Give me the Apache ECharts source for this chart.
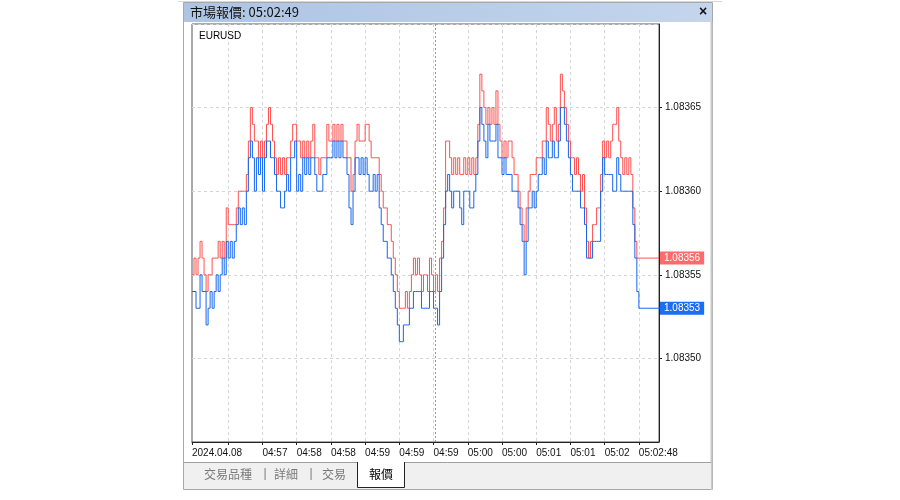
<!DOCTYPE html>
<html>
<head>
<meta charset="utf-8">
<script src="https://cdn.jsdelivr.net/npm/echarts@6/dist/echarts.min.js"></script>
<style>
html,body{margin:0;padding:0;background:#fff;}
#chart{width:900px;height:500px;}
</style>
</head>
<body>
<div id="chart"></div>
<script>
// ---- data ----
const symbol = 'EURUSD';
const windowTitle = '市場報價: 05:02:49';
const tabNames = ['交易品種', '詳細', '交易', '報價'];
const BASE = 1.08350;   // price base
const POINT = 0.00001;  // one point
// ask / bid prices per tick, in points above BASE
const askPoints = [5,6,5,6,7,6,5,4,5,5,6,6,6,7,6,7,6,9,8,8,8,8,9,10,10,10,10,11,13,15,
  14,13,13,12,13,12,13,14,15,14,13,12,11,12,11,12,11,12,12,13,14,14,13,13,12,13,12,13,12,13,
  14,12,12,11,12,12,12,14,13,13,14,13,14,13,14,13,13,12,12,10,11,13,14,13,13,13,14,14,13,12,
  12,12,12,11,10,9,9,8,8,7,6,5,4,3,3,3,4,3,4,5,6,5,6,5,4,5,5,4,6,5,
  4,5,4,6,7,9,13,13,12,11,12,11,12,11,11,12,11,12,11,12,11,12,14,17,16,15,14,15,14,15,
  14,16,14,13,12,13,12,13,13,12,11,11,10,9,8,7,9,10,11,11,11,12,12,12,13,13,15,14,13,14,
  15,13,14,17,16,15,14,13,12,12,11,12,11,10,11,9,7,6,7,8,8,9,9,11,13,12,13,12,13,14,
  14,15,13,12,11,12,11,12,11,9,7,6,6,6,6,6,6,6,6,6,6,6,6];
const bidPoints = [4,4,3,3,5,4,4,2,3,4,3,4,5,4,5,6,5,7,6,7,6,7,8,9,8,9,8,10,12,13,
  12,10,12,11,12,10,12,13,13,12,12,11,10,10,9,9,10,11,10,12,12,13,10,11,10,12,11,12,11,12,
  12,11,10,10,10,11,11,12,12,12,13,12,13,12,13,12,12,11,9,8,10,12,12,11,12,11,12,11,10,10,
  11,10,11,9,8,7,7,6,6,5,4,3,2,1,1,2,2,2,3,3,4,4,4,4,3,3,3,3,4,4,
  3,3,2,4,6,8,10,11,10,9,10,10,10,9,8,10,10,10,9,9,10,11,13,15,14,13,12,14,13,13,
  13,14,12,12,11,12,11,11,11,10,10,10,9,8,7,5,7,9,9,10,9,10,11,11,12,11,13,12,12,13,
  12,12,13,15,15,14,13,12,11,10,10,10,10,9,9,8,6,6,6,7,7,7,7,10,12,11,11,11,11,10,
  10,12,11,10,10,10,10,10,10,8,6,4,3,3,3,3,3,3,3,3,3,3,3,3];
// time labels and the tick index where each one sits
const timeLabels = ['2024.04.08','04:57','04:58','04:58','04:59','04:59','04:59','05:00','05:00','05:01','05:01','05:02','05:02:48'];
const labelTicks = [0,35,52,69,86,103,120,137,154,171,188,205,222];
const separatorTick = 121;
const yTicks = [1.08345, 1.08350, 1.08355, 1.08360, 1.08365, 1.08370];

// ---- build ----
const toPrice = p => Number((BASE + p * POINT).toFixed(5));
const ask = askPoints.map(toPrice);
const bid = bidPoints.map(toPrice);
const categories = ask.map((_, i) => String(i));
const lastAsk = ask[ask.length - 1];
const lastBid = bid[bid.length - 1];
const labelMap = {};
labelTicks.forEach((t, k) => { labelMap[t] = timeLabels[k]; });
const isGrid = i => i >= 18 && (i - 18) % 17 === 0;

const FONT = '"Liberation Sans", Arial, sans-serif';
const CJK = '"Noto Sans CJK TC", "Noto Sans", sans-serif';
const RED = '#ff5050', BLUE = '#1466f0';
const yMin = yTicks[0], yMax = yTicks[yTicks.length - 1];

const chart = echarts.init(document.getElementById('chart'), null, {renderer: 'canvas'});
chart.setOption({
  animation: false,
  backgroundColor: '#ffffff',
  title: {
    text: symbol, left: 194, top: 26,
    textStyle: {fontSize: 10, fontWeight: 'normal', color: '#000', fontFamily: FONT}
  },
  grid: {left: 192, right: 241, top: 24, bottom: 58, show: true, borderColor: '#555', borderWidth: 1, backgroundColor: '#fff'},
  xAxis: {
    type: 'category', data: categories, boundaryGap: false,
    axisLine: {show: true, lineStyle: {color: '#222'}},
    axisTick: {show: true, length: 3, interval: (i) => i === 0 || isGrid(i), lineStyle: {color: '#222'}},
    axisLabel: {
      show: true, interval: (i) => labelMap[i] !== undefined, align: 'left', margin: 6,
      formatter: (v, i) => labelMap[i] || '', fontSize: 10, color: '#111', fontFamily: FONT
    },
    splitLine: {show: true, interval: (i) => isGrid(i), lineStyle: {color: '#d4d4d4', type: [3, 3]}}
  },
  yAxis: [
    {
      type: 'value', position: 'right', min: yMin, max: yMax, interval: 0.00005,
      axisLine: {show: true, lineStyle: {color: '#222'}},
      axisTick: {show: true, length: 3, lineStyle: {color: '#222'}},
      axisLabel: {
        showMinLabel: false, showMaxLabel: false, margin: 6,
        formatter: v => v.toFixed(5), fontSize: 10, color: '#111', fontFamily: FONT
      },
      splitLine: {show: true, lineStyle: {color: '#d4d4d4', type: [3, 3]}}
    },
    {
      type: 'value', position: 'right', min: yMin, max: yMax, offset: 0,
      axisLine: {show: false}, axisTick: {show: false}, splitLine: {show: false},
      axisLabel: {
        show: true, margin: 1, customValues: [lastAsk, lastBid],
        formatter: v => (Math.abs(v - lastAsk) < 1e-9 ? '{a|' + lastAsk.toFixed(5) + '}' : '{b|' + lastBid.toFixed(5) + '}'),
        rich: {
          a: {backgroundColor: '#ff6b6b', color: '#fff', padding: [2, 4, 1, 4], fontSize: 10, fontFamily: FONT},
          b: {backgroundColor: '#1a6ef0', color: '#fff', padding: [2, 4, 1, 4], fontSize: 10, fontFamily: FONT}
        }
      }
    }
  ],
  series: [
    {
      name: 'Ask', type: 'line', step: 'end', data: ask, symbol: 'none',
      lineStyle: {color: RED, width: 1}, z: 3
    },
    {
      name: 'Bid', type: 'line', step: 'end', data: bid, symbol: 'none',
      lineStyle: {color: BLUE, width: 1}, z: 4
    },
    {
      name: 'sep', type: 'line', data: [], z: 2,
      markLine: {
        silent: true, symbol: 'none', animation: false, label: {show: false},
        lineStyle: {color: '#9a9a9a', type: [2, 2], width: 1},
        data: [{xAxis: String(separatorTick)}]
      }
    }
  ],
  graphic: [
    {type: 'line', shape: {x1: 178, y1: 1.5, x2: 722, y2: 1.5}, style: {stroke: '#d8d8d8', lineWidth: 1}},
    {type: 'rect', shape: {x: 183.5, y: 2.5, width: 529, height: 487}, style: {fill: 'none', stroke: '#a8a8a8', lineWidth: 1}},
    {type: 'rect', shape: {x: 184, y: 3, width: 528, height: 19},
      style: {fill: new echarts.graphic.LinearGradient(0, 0, 1, 0, [{offset: 0, color: '#adc4e3'}, {offset: 1, color: '#c4d5ec'}])}},
    {type: 'text', x: 190, y: 12.5, style: {text: windowTitle, font: '13px ' + CJK, fill: '#111', textVerticalAlign: 'middle'}},
    {type: 'text', x: 703, y: 12.5, style: {text: '×', font: 'bold 14px ' + FONT, fill: '#111', textAlign: 'center', textVerticalAlign: 'middle'}},
    {type: 'line', shape: {x1: 711.5, y1: 22, x2: 711.5, y2: 490}, style: {stroke: '#c8c8c8', lineWidth: 2}},
    {type: 'rect', shape: {x: 184, y: 462, width: 527, height: 27}, style: {fill: '#f0f0f0'}},
    {type: 'line', shape: {x1: 184, y1: 462.5, x2: 711, y2: 462.5}, style: {stroke: '#a0a0a0', lineWidth: 1}},
    {type: 'rect', shape: {x: 357.5, y: 461, width: 47, height: 26}, style: {fill: '#fff'}},
    {type: 'polyline', shape: {points: [[357.5, 462], [357.5, 487.5], [404.5, 487.5], [404.5, 462]]}, style: {stroke: '#222', lineWidth: 1, fill: 'none'}},
    {type: 'text', x: 228, y: 474, style: {text: tabNames[0], font: '12px ' + CJK, fill: '#7a7a7a', textAlign: 'center', textVerticalAlign: 'middle'}},
    {type: 'text', x: 265, y: 474, style: {text: '|', font: '12px ' + FONT, fill: '#7a7a7a', textAlign: 'center', textVerticalAlign: 'middle'}},
    {type: 'text', x: 286, y: 474, style: {text: tabNames[1], font: '12px ' + CJK, fill: '#7a7a7a', textAlign: 'center', textVerticalAlign: 'middle'}},
    {type: 'text', x: 311, y: 474, style: {text: '|', font: '12px ' + FONT, fill: '#7a7a7a', textAlign: 'center', textVerticalAlign: 'middle'}},
    {type: 'text', x: 334, y: 474, style: {text: tabNames[2], font: '12px ' + CJK, fill: '#7a7a7a', textAlign: 'center', textVerticalAlign: 'middle'}},
    {type: 'text', x: 381, y: 474, style: {text: tabNames[3], font: '12px ' + CJK, fill: '#000', textAlign: 'center', textVerticalAlign: 'middle'}}
  ]
});
</script>
</body>
</html>
